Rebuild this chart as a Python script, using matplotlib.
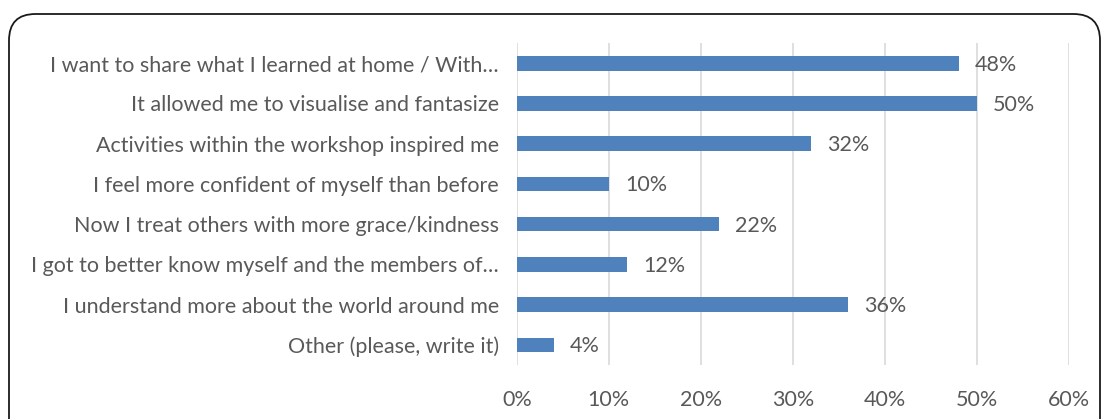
import numpy as np
import matplotlib.pyplot as plt
from matplotlib.patches import FancyBboxPatch

# --- Data ---
categories = [
    "I want to share what I learned at home / With\u2026",
    "It allowed me to visualise and fantasize",
    "Activities within the workshop inspired me",
    "I feel more confident of myself than before",
    "Now I treat others with more grace/kindness",
    "I got to better know myself and the members of\u2026",
    "I understand more about the world around me",
    "Other (please, write it)",
]
values = [48, 50, 32, 10, 22, 12, 36, 4]
xticks = [0, 10, 20, 30, 40, 50, 60]

text_color = "#595959"
bar_color = "#4F81BD"
fs = 15.5

plt.rcParams['font.family'] = ['Lato', 'DejaVu Sans']

fig = plt.figure(figsize=(11.02, 4.19), dpi=100)
ax = fig.add_axes([0.469, 0.129, 0.501, 0.768])

y = np.arange(len(categories))
ax.barh(y, values, height=0.36, color=bar_color)
for yi, v in zip(y, values):
    ax.annotate(f"{v}%", (v, yi), xytext=(11.5, -1), textcoords="offset points",
                va="center", ha="left", fontsize=fs, color=text_color)

ax.set_ylim(len(categories) - 0.5, -0.5)
ax.set_xlim(0, 60)
ax.set_yticks(y)
ax.set_yticklabels(categories, fontsize=fs, color=text_color)
ax.set_xticks(xticks)
ax.set_xticklabels([f"{t}%" for t in xticks], fontsize=fs, color=text_color)
ax.tick_params(axis="both", length=0)
ax.tick_params(axis="y", pad=13)
ax.tick_params(axis="x", pad=18)
ax.grid(axis="x", color="#D9D9D9", linewidth=1.2)
ax.set_axisbelow(True)
for s in ax.spines.values():
    s.set_visible(False)

# rounded frame around the chart
frame = FancyBboxPatch((9 / 1102, -0.2), (1100 - 9) / 1102, 1.2 - 14 / 419,
                       boxstyle="round,pad=0,rounding_size=0.024",
                       transform=fig.transFigure, fill=False,
                       edgecolor="#1a1a1a", linewidth=1.3,
                       mutation_aspect=1102 / 419)
fig.patches.append(frame)

fig.savefig("out.png", dpi=100)
